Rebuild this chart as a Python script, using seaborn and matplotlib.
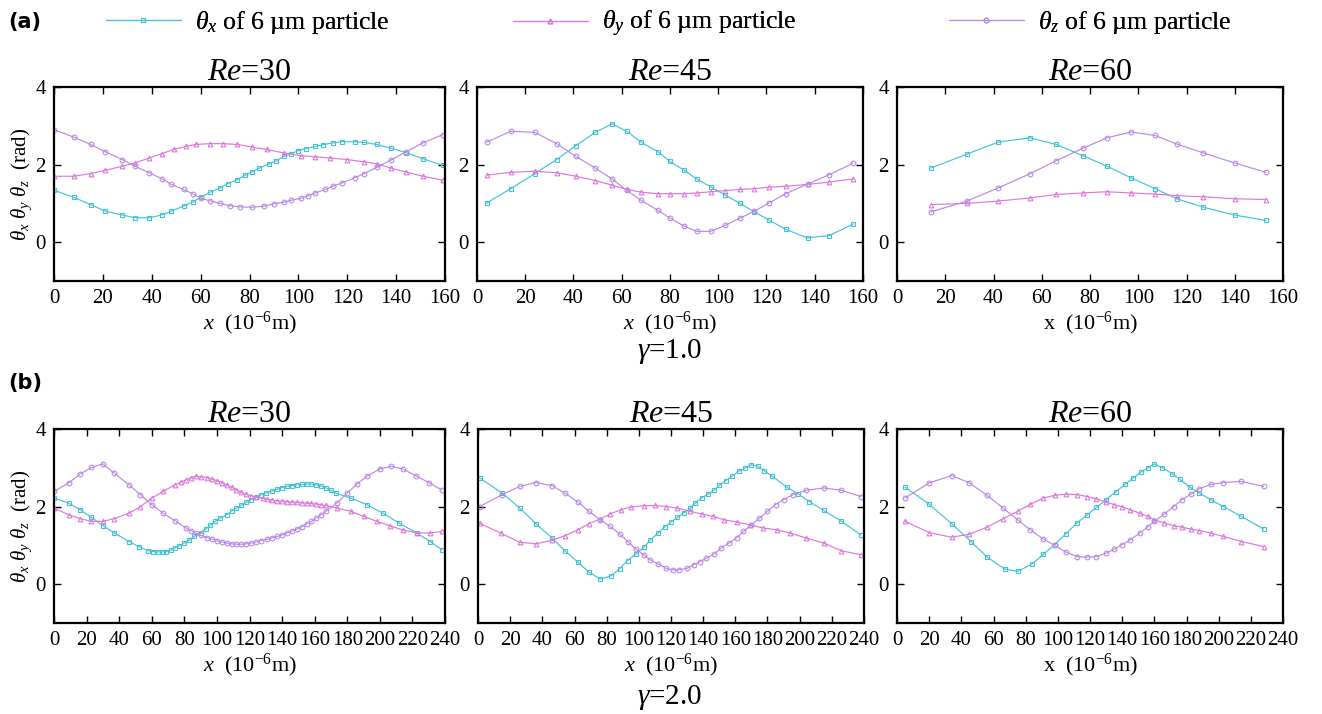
import numpy as np
import pandas as pd
import matplotlib
matplotlib.use("Agg")
import matplotlib.pyplot as plt
import seaborn as sns

# gamma = 1.0, Re = 30
A1_X_TX = [0, 8, 15, 21, 28, 33, 39, 44, 48, 53, 57, 60, 64, 68, 71, 75, 78, 81, 84, 88,
           91, 94, 97, 100, 103, 107, 110, 114, 118, 123, 127, 132, 138, 144, 151, 159]
A1_TX = [1.34, 1.16, 0.97, 0.80, 0.70, 0.63, 0.63, 0.70, 0.80, 0.93, 1.04, 1.16, 1.29, 1.40,
         1.51, 1.61, 1.72, 1.81, 1.91, 2.02, 2.10, 2.21, 2.28, 2.36, 2.41, 2.47, 2.51, 2.56,
         2.59, 2.59, 2.57, 2.52, 2.42, 2.31, 2.15, 1.98]
A1_X_TY = [0, 8, 15, 21, 28, 33, 39, 44, 49, 54, 58, 64, 69, 75, 81, 87, 94, 101, 107, 113,
           120, 127, 132, 138, 144, 151, 159]
A1_TY = [1.70, 1.70, 1.77, 1.85, 1.96, 2.04, 2.17, 2.28, 2.39, 2.47, 2.52, 2.54, 2.54, 2.52,
         2.45, 2.39, 2.30, 2.23, 2.20, 2.17, 2.13, 2.07, 2.02, 1.91, 1.81, 1.70, 1.60]
A1_X_TZ = [0, 8, 15, 21, 28, 33, 39, 44, 48, 53, 57, 60, 64, 68, 72, 76, 81, 86, 90, 94,
           97, 101, 104, 107, 111, 114, 118, 123, 127, 132, 138, 144, 151, 159]
A1_TZ = [2.90, 2.71, 2.52, 2.33, 2.13, 1.96, 1.79, 1.64, 1.49, 1.36, 1.24, 1.14, 1.06, 1.00,
         0.94, 0.91, 0.90, 0.93, 0.99, 1.03, 1.08, 1.13, 1.20, 1.27, 1.36, 1.44, 1.53, 1.66,
         1.77, 1.93, 2.12, 2.33, 2.56, 2.77]

# gamma = 1.0, Re = 45
A2_X = [4, 14, 24, 33, 41, 49, 56, 62, 68, 75, 80, 86, 91, 97, 103, 109, 115, 121, 128, 137, 146, 156]
A2_TX = [1.01, 1.38, 1.77, 2.13, 2.49, 2.83, 3.05, 2.86, 2.58, 2.33, 2.08, 1.85, 1.63, 1.42,
         1.21, 1.00, 0.78, 0.57, 0.33, 0.11, 0.17, 0.47]
A2_TY = [1.73, 1.80, 1.83, 1.79, 1.70, 1.59, 1.47, 1.36, 1.29, 1.25, 1.25, 1.25, 1.27, 1.30,
         1.33, 1.36, 1.38, 1.42, 1.44, 1.49, 1.55, 1.63]
A2_TZ = [2.58, 2.86, 2.83, 2.54, 2.21, 1.91, 1.63, 1.34, 1.08, 0.82, 0.62, 0.41, 0.28, 0.28,
         0.44, 0.62, 0.80, 1.01, 1.25, 1.50, 1.74, 2.04]

# gamma = 1.0, Re = 60
A3_X = [14, 29, 42, 55, 66, 77, 87, 97, 107, 116, 127, 140, 153]
A3_TX = [1.91, 2.27, 2.58, 2.69, 2.52, 2.23, 1.96, 1.66, 1.38, 1.12, 0.90, 0.70, 0.56]
A3_TY = [0.97, 1.00, 1.06, 1.14, 1.23, 1.27, 1.30, 1.27, 1.24, 1.20, 1.17, 1.12, 1.10]
A3_TZ = [0.78, 1.06, 1.40, 1.76, 2.10, 2.42, 2.69, 2.84, 2.75, 2.53, 2.30, 2.04, 1.80]

# gamma = 2.0, Re = 30
B1_X_TX = [0, 9, 16, 23, 30, 37, 46, 52, 58, 61, 64, 67, 69, 72, 74, 77, 80, 83, 86, 90, 93, 96,
           99, 102, 106, 109, 112, 115, 118, 121, 124, 127, 130, 134, 137, 140, 143, 146, 149,
           152, 155, 158, 161, 164, 167, 170, 173, 182, 192, 202, 212, 223, 231, 238]
B1_TX = [2.22, 2.09, 1.92, 1.72, 1.51, 1.32, 1.10, 0.97, 0.86, 0.84, 0.83, 0.83, 0.84, 0.88,
         0.93, 0.99, 1.06, 1.14, 1.23, 1.33, 1.42, 1.52, 1.62, 1.70, 1.79, 1.88, 1.96, 2.04,
         2.11, 2.18, 2.24, 2.30, 2.35, 2.40, 2.45, 2.49, 2.52, 2.54, 2.56, 2.57, 2.58, 2.58,
         2.56, 2.53, 2.48, 2.42, 2.35, 2.22, 2.05, 1.83, 1.57, 1.31, 1.10, 0.89]
B1_X_TY = [0, 9, 16, 23, 30, 37, 46, 53, 60, 67, 74, 78, 81, 84, 87, 90, 94, 97, 100, 103, 106,
           109, 112, 115, 118, 121, 124, 128, 131, 134, 137, 140, 143, 146, 149, 152, 155, 158,
           161, 164, 167, 174, 182, 190, 198, 206, 214, 223, 231, 238]
B1_TY = [1.96, 1.79, 1.69, 1.62, 1.62, 1.69, 1.83, 2.00, 2.22, 2.39, 2.56, 2.63, 2.69, 2.74,
         2.78, 2.77, 2.75, 2.71, 2.67, 2.62, 2.56, 2.50, 2.43, 2.37, 2.32, 2.28, 2.24, 2.21,
         2.19, 2.17, 2.15, 2.14, 2.13, 2.12, 2.11, 2.10, 2.09, 2.08, 2.07, 2.05, 2.03, 1.96,
         1.88, 1.75, 1.62, 1.51, 1.40, 1.32, 1.32, 1.36]
B1_X_TZ = [0, 9, 16, 23, 30, 37, 46, 53, 60, 67, 74, 81, 84, 87, 90, 94, 97, 100, 103, 106, 109,
           112, 115, 118, 121, 124, 127, 131, 134, 137, 140, 143, 146, 149, 152, 155, 158, 161,
           164, 167, 174, 180, 186, 192, 200, 207, 214, 222, 230, 238]
B1_TZ = [2.39, 2.61, 2.84, 3.01, 3.10, 2.86, 2.56, 2.31, 2.05, 1.83, 1.64, 1.45, 1.38, 1.32,
         1.26, 1.20, 1.16, 1.12, 1.09, 1.06, 1.04, 1.03, 1.03, 1.04, 1.06, 1.08, 1.12, 1.16,
         1.20, 1.23, 1.27, 1.32, 1.37, 1.42, 1.48, 1.55, 1.62, 1.70, 1.79, 1.88, 2.10, 2.35,
         2.58, 2.78, 2.97, 3.04, 2.97, 2.80, 2.62, 2.43]

# gamma = 2.0, Re = 45
B2_X_TX = [1, 15, 26, 36, 46, 54, 62, 69, 76, 83, 88, 93, 98, 103, 107, 112, 116, 120, 124, 128,
           132, 135, 139, 143, 147, 150, 154, 158, 162, 166, 170, 174, 178, 183, 192, 199, 206,
           215, 226, 238]
B2_TX = [2.74, 2.35, 1.96, 1.56, 1.19, 0.86, 0.57, 0.31, 0.13, 0.22, 0.40, 0.61, 0.77, 0.95,
         1.13, 1.32, 1.47, 1.60, 1.72, 1.84, 1.96, 2.09, 2.22, 2.32, 2.43, 2.55, 2.67, 2.78,
         2.91, 2.99, 3.08, 3.04, 2.92, 2.78, 2.50, 2.33, 2.13, 1.90, 1.62, 1.27]
B2_X_TY = [1, 14, 26, 36, 46, 54, 62, 69, 76, 82, 89, 95, 103, 110, 117, 124, 132, 139, 146, 153,
           161, 169, 177, 186, 194, 204, 215, 226, 238]
B2_TY = [1.57, 1.32, 1.08, 1.04, 1.13, 1.25, 1.40, 1.56, 1.68, 1.81, 1.92, 1.99, 2.02, 2.03,
         2.00, 1.96, 1.88, 1.81, 1.75, 1.66, 1.60, 1.53, 1.45, 1.40, 1.32, 1.19, 1.06, 0.86, 0.76]
B2_X_TZ = [1, 15, 26, 36, 46, 54, 62, 69, 76, 82, 88, 93, 98, 103, 107, 112, 117, 121, 125, 130,
           134, 138, 142, 147, 151, 156, 161, 165, 170, 175, 180, 185, 190, 196, 204, 215, 226, 238]
B2_TZ = [2.00, 2.31, 2.52, 2.62, 2.54, 2.35, 2.12, 1.88, 1.66, 1.49, 1.30, 1.10, 0.91, 0.76,
         0.63, 0.52, 0.41, 0.37, 0.37, 0.41, 0.50, 0.58, 0.67, 0.78, 0.93, 1.06, 1.20, 1.36,
         1.53, 1.70, 1.88, 2.05, 2.18, 2.31, 2.42, 2.48, 2.42, 2.26]

# gamma = 2.0, Re = 60
B3_X_TX = [5, 20, 34, 46, 56, 67, 75, 84, 91, 98, 105, 112, 118, 124, 130, 136, 142, 147, 152, 156,
           160, 165, 171, 176, 182, 188, 195, 203, 214, 228]
B3_TX = [2.50, 2.06, 1.56, 1.10, 0.70, 0.39, 0.33, 0.52, 0.77, 1.02, 1.30, 1.58, 1.78, 1.98,
         2.18, 2.38, 2.58, 2.74, 2.90, 3.00, 3.10, 3.00, 2.85, 2.70, 2.50, 2.35, 2.18, 2.00,
         1.75, 1.42]
B3_X = [5, 20, 34, 45, 56, 66, 75, 83, 91, 98, 105, 112, 118, 124, 130, 135, 140, 145, 151, 156,
        160, 166, 172, 177, 183, 188, 195, 203, 214, 228]
B3_TY = [1.62, 1.33, 1.21, 1.29, 1.47, 1.69, 1.88, 2.06, 2.22, 2.29, 2.32, 2.31, 2.26, 2.20,
         2.12, 2.05, 1.99, 1.92, 1.83, 1.75, 1.66, 1.58, 1.51, 1.47, 1.42, 1.38, 1.32, 1.23,
         1.10, 0.97]
B3_TZ = [2.22, 2.61, 2.80, 2.61, 2.29, 1.96, 1.66, 1.40, 1.16, 1.00, 0.83, 0.71, 0.70, 0.71,
         0.80, 0.90, 1.02, 1.14, 1.32, 1.48, 1.62, 1.80, 2.00, 2.17, 2.33, 2.46, 2.57, 2.62,
         2.65, 2.52]

RE_VALUES = ["30", "45", "60"]
LEGEND_LABELS = [r"$\theta_x$ of 6 µm particle", r"$\theta_y$ of 6 µm particle",
                 r"$\theta_z$ of 6 µm particle"]

C_X = "#45c3d6"
C_Y = "#dc78dc"
C_Z = "#b98ae3"

sns.set_style("ticks")
plt.rcParams["font.family"] = ["Liberation Serif", "DejaVu Serif"]
plt.rcParams["mathtext.fontset"] = "custom"
plt.rcParams["mathtext.rm"] = "Liberation Serif"
plt.rcParams["mathtext.it"] = "Liberation Serif:italic"
plt.rcParams["mathtext.bf"] = "Liberation Serif:bold"
plt.rcParams["text.color"] = "black"
plt.rcParams["axes.labelcolor"] = "black"

fig = plt.figure(figsize=(13.22, 7.14), dpi=100)
W, H = 1322, 714

def add_ax(left, top, width, height=194):
    return fig.add_axes([left / W, 1 - (top + height) / H, width / W, height / H])

rows = [
    dict(top=87, xmax=160, panels=[
        (54, 391, [(A1_X_TX, A1_TX), (A1_X_TY, A1_TY), (A1_X_TZ, A1_TZ)]),
        (477, 386, [(A2_X, A2_TX), (A2_X, A2_TY), (A2_X, A2_TZ)]),
        (897, 386, [(A3_X, A3_TX), (A3_X, A3_TY), (A3_X, A3_TZ)]),
    ]),
    dict(top=429, xmax=240, panels=[
        (54, 391, [(B1_X_TX, B1_TX), (B1_X_TY, B1_TY), (B1_X_TZ, B1_TZ)]),
        (478, 386, [(B2_X_TX, B2_TX), (B2_X_TY, B2_TY), (B2_X_TZ, B2_TZ)]),
        (897, 386, [(B3_X_TX, B3_TX), (B3_X, B3_TY), (B3_X, B3_TZ)]),
    ]),
]

styles = [(C_X, "s"), (C_Y, "^"), (C_Z, "o")]
legend_handles = None

for r, row in enumerate(rows):
    for p, (left, width, series) in enumerate(row["panels"]):
        ax = add_ax(left, row["top"], width)
        for (xs, ys), (col, mk) in zip(series, styles):
            sns.lineplot(x=xs, y=ys, ax=ax, color=col, marker=mk, markersize=3.4,
                         markerfacecolor="none", markeredgecolor=col, markeredgewidth=0.8,
                         linewidth=0.85, estimator=None, sort=False)
        if legend_handles is None:
            legend_handles = list(ax.lines[:3])
        ax.set_xlim(0, row["xmax"])
        ax.set_ylim(-1, 4)
        ax.set_xticks(np.arange(0, row["xmax"] + 1, 20))
        ax.set_yticks([0, 2, 4])
        ax.tick_params(direction="in", top=True, right=True, length=5, width=1,
                       labelsize=15, pad=6, colors="black")
        for s in ax.spines.values():
            s.set_linewidth(1.6)
            s.set_color("black")
        ax.set_title(r"$Re$=" + RE_VALUES[p], fontsize=23, pad=5)
        if p < 2:
            ax.set_xlabel(r"$x$  (10$^{-6}$m)", fontsize=16, labelpad=1)
        else:
            ax.set_xlabel(r"x  (10$^{-6}$m)", fontsize=16, labelpad=1)
        if p == 0:
            ax.set_ylabel(r"$\theta_x\ \theta_y\ \theta_z$  (rad)", fontsize=15, labelpad=1)
        else:
            ax.set_ylabel("")

fig.text(670 / W, 1 - 352 / H, r"$\gamma$=1.0", fontsize=21, ha="center", va="center")
fig.text(670 / W, 1 - 698 / H, r"$\gamma$=2.0", fontsize=21, ha="center", va="center")
fig.text(8 / W, 1 - 22 / H, "(a)", fontsize=15, fontweight="bold", family="DejaVu Sans",
         ha="left", va="center")
fig.text(8 / W, 1 - 383 / H, "(b)", fontsize=15, fontweight="bold", family="DejaVu Sans",
         ha="left", va="center")

# one legend per entry, placed where the reference puts them
for h, lab, x0 in zip(legend_handles, LEGEND_LABELS, [106, 513, 949]):
    leg = fig.legend([h], [lab], loc="upper left", bbox_to_anchor=(x0 / W, 1 - 9 / H),
                     frameon=False, fontsize=18.5, handlelength=2.9, handletextpad=0.55,
                     borderpad=0, borderaxespad=0)
    fig.add_artist(leg)

fig.savefig("out.png", dpi=100)
